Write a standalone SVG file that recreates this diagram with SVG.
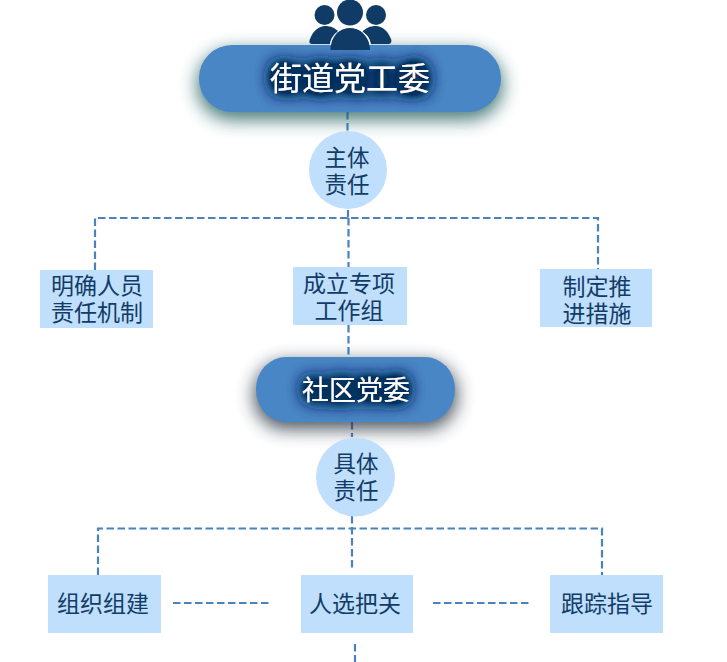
<svg xmlns="http://www.w3.org/2000/svg" width="727" height="662" viewBox="0 0 727 662">
<style>
text{font-family:"Noto Sans CJK SC","Noto Sans",sans-serif;text-anchor:middle}
.b{fill:#bfdffd}
.t{fill:#123c66;font-size:23px}
.c{font-size:22.500px}
.w{fill:#fff}
.p{fill:#4886c6}
.d{fill:none;stroke:#4a82c0;stroke-width:2.200;stroke-dasharray:7.500 3.500}
.i{fill:#0f3b66}
</style>
<defs>
<filter id="s1" x="-20%" y="-50%" width="140%" height="200%"><feGaussianBlur stdDeviation="9"/></filter>
<filter id="g" x="-30%" y="-80%" width="160%" height="260%"><feGaussianBlur in="SourceAlpha" stdDeviation="8" result="a"/><feFlood flood-color="#10305e"/><feComposite in2="a" operator="in" result="c"/><feComponentTransfer in="c" result="e"><feFuncA type="linear" slope="5"/></feComponentTransfer><feMerge><feMergeNode in="e"/><feMergeNode in="SourceGraphic"/></feMerge></filter>
</defs>
<g id="connectors">
<path class="d" d="M347.500 112V132M348 210V218M95 270V218H598V269M348.500 218V267M348.500 325V357"/>
<path class="d" d="M352 422V437M352 516V568M98 575V528.500H602V575M173 603H270M433 603H530M355 644V662"/>
</g>
<g id="jiedao">
<rect x="197" y="50" width="306" height="70" rx="35" fill="#2c6565" opacity=".85" filter="url(#s1)"/>
<rect class="p" x="199" y="45" width="302" height="67" rx="33"/>
<text class="w" x="350" y="90" font-size="32" filter="url(#g)">街道党工委</text>
</g>
<g id="icon">
<circle class="i" cx="324.500" cy="15" r="10"/><circle class="i" cx="376" cy="15" r="10"/>
<path class="i" d="M312 44C309 44 309 41 310 39C313 31 319 26 325 26C331 26 335 28 339 32C333 35 331 39 330 44ZM389 44C391 44 392 41 391 39C388 31 382 26 376 26C370 26 366 28 362 32C368 35 370 39 371 44Z"/>
<circle class="i" cx="350" cy="12.500" r="13"/>
<path class="i" d="M330.500 50C330 37 340 27.500 350 27.500C360 27.500 370 37 370 50Z"/>
<path fill="none" stroke="#fff" stroke-width="1" d="M330.500 45C331 35 340 27.500 350 27.500C360 27.500 369.500 35 370 45"/>
</g>
<g id="zhuti">
<circle class="b" cx="348" cy="170" r="39"/>
<text class="t c" x="347" y="166">主体</text>
<text class="t c" x="347" y="193">责任</text>
</g>
<g id="mingque">
<rect class="b" x="40" y="270" width="113" height="58"/>
<text class="t" x="97" y="294">明确人员</text><text class="t" x="97" y="321">责任机制</text>
</g>
<g id="chengli">
<rect class="b" x="293" y="267" width="114" height="58"/>
<text class="t" x="349" y="292">成立专项</text><text class="t" x="349" y="319">工作组</text>
</g>
<g id="zhiding">
<rect class="b" x="540" y="269" width="112" height="58"/>
<text class="t" x="597" y="295">制定推</text><text class="t" x="597" y="322">进措施</text>
</g>
<g id="shequ">
<rect x="254" y="362" width="203" height="67" rx="31" ry="33" fill="#2a3844" opacity=".85" filter="url(#s1)"/>
<rect class="p" x="256" y="357" width="199" height="65" rx="30" ry="32"/>
<text class="w" x="356" y="400" font-size="27" filter="url(#g)">社区党委</text>
</g>
<g id="juti">
<circle class="b" cx="355.500" cy="477" r="39.500"/>
<text class="t c" x="356" y="472">具体</text>
<text class="t c" x="356" y="499">责任</text>
</g>
<g id="zuzhi">
<rect class="b" x="48" y="575" width="113" height="58"/>
<text class="t" x="103" y="612">组织组建</text>
</g>
<g id="renxuan">
<rect class="b" x="301" y="575" width="112" height="58"/>
<text class="t" x="355" y="612">人选把关</text>
</g>
<g id="genzong">
<rect class="b" x="550" y="575" width="113" height="58"/>
<text class="t" x="607" y="612">跟踪指导</text>
</g>
</svg>
